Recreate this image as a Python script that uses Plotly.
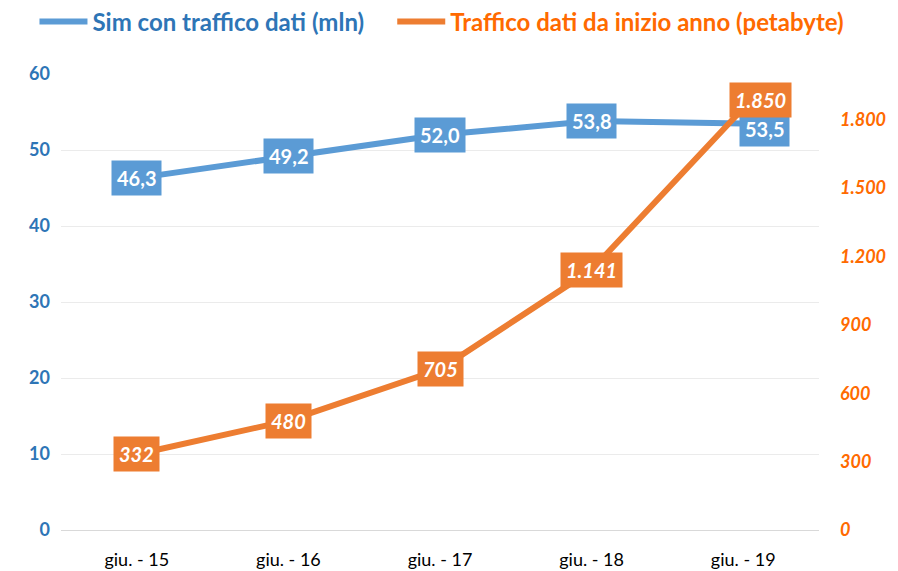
import plotly.graph_objects as go

periodi = ["giu. - 15", "giu. - 16", "giu. - 17", "giu. - 18", "giu. - 19"]
sim_mln = [46.3, 49.2, 52.0, 53.8, 53.5]
traffico_pb = [332, 480, 705, 1141, 1850]

blu = "#5B9BD5"
arancio = "#ED7D31"
font_base = "Lato, 'Noto Sans', sans-serif"


def fmt_it(v, dec=0):
    # formato italiano: virgola decimale, punto per le migliaia
    s = f"{v:,.{dec}f}"
    return s.replace(",", "X").replace(".", ",").replace("X", ".")


fig = go.Figure()

fig.add_trace(go.Scatter(
    x=periodi, y=sim_mln, mode="lines",
    name="<b>Sim con traffico dati (mln)</b>",
    line=dict(color=blu, width=6), legend="legend",
))
fig.add_trace(go.Scatter(
    x=periodi, y=traffico_pb, mode="lines", yaxis="y2",
    name="<b>Traffico dati da inizio anno (petabyte)</b>",
    line=dict(color=arancio, width=6), legend="legend2",
))

# etichette con sfondo colorato
for i, (p, v) in enumerate(zip(periodi, sim_mln)):
    ultimo = i == len(periodi) - 1
    fig.add_annotation(
        x=p, y=v, xref="x", yref="y", showarrow=False,
        text="<b>" + fmt_it(v, 1) + "</b>",
        font=dict(family=font_base, size=20, color="white"),
        bgcolor=blu, borderpad=5,
        xshift=21 if ultimo else 0, yshift=-6 if ultimo else 0,
    )
for i, (p, v) in enumerate(zip(periodi, traffico_pb)):
    ultimo = i == len(periodi) - 1
    fig.add_annotation(
        x=p, y=v, xref="x", yref="y2", showarrow=False,
        text="<b><i>" + fmt_it(v) + "</i></b>",
        font=dict(family=font_base, size=20, color="white"),
        bgcolor=arancio, borderpad=5,
        xshift=17 if ultimo else 0, yshift=8 if ultimo else 0,
    )

fig.update_layout(
    width=890, height=563,
    margin=dict(l=53, r=79, t=66, b=41, autoexpand=False),
    plot_bgcolor="white", paper_bgcolor="white",
    font=dict(family=font_base, size=17, color="black"),
    showlegend=True,
    legend=dict(
        orientation="h", x=-0.035, xanchor="left", y=1.114, yanchor="middle",
        font=dict(size=24, color="#2E75B6"), itemwidth=48,
    ),
    legend2=dict(
        orientation="h", x=0.437, xanchor="left", y=1.114, yanchor="middle",
        font=dict(size=24, color="#FF6A00"), itemwidth=48,
    ),
    xaxis=dict(
        range=[-0.5, 4.5], showgrid=False, showline=True,
        linecolor="#D9D9D9", linewidth=1, ticklabelstandoff=13,
        tickfont=dict(size=18, color="black"), ticks="",
    ),
    yaxis=dict(
        range=[0, 60], dtick=10, showgrid=True, gridcolor="#EBEBEB",
        zeroline=False, ticks="", ticklabelstandoff=10,
        tickfont=dict(size=18, color="#2E75B6", weight="bold"),
    ),
    yaxis2=dict(
        range=[0, 2000], dtick=300, overlaying="y", side="right",
        showgrid=False, zeroline=False, ticks="", ticklabelstandoff=20,
        tickfont=dict(size=18, color="#FF6A00", weight="bold", style="italic"),
        separatethousands=True,
    ),
    separators=",.",
)

fig.write_html("out.html")
